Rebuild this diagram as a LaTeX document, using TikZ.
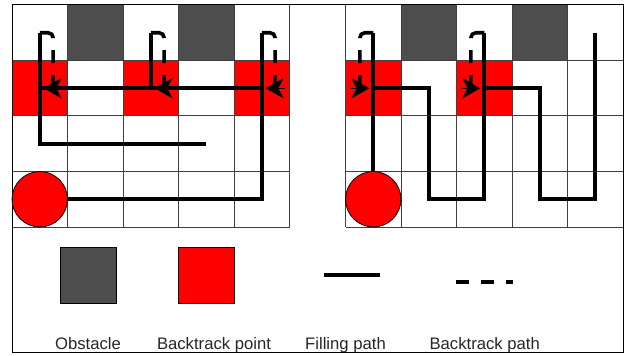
\documentclass[tikz,border=0pt]{standalone}
\usepackage{fontspec}
\setmainfont{Liberation Sans}
\usetikzlibrary{arrows.meta,calc}
\definecolor{obstacle}{HTML}{4D4D4D}
\definecolor{backpt}{HTML}{FF0000}

\begin{document}
\begin{tikzpicture}[x=0.75pt,y=-0.75pt,
  gridline/.style={draw=black!75, line width=0.75pt},
  frame/.style={draw=black, line width=0.75pt},
  startdot/.style={circle, draw=black, line width=0.6pt, fill=backpt,
    minimum size=41.6pt, inner sep=0pt},
  keybox/.style={draw=black, line width=0.75pt, minimum width=42pt,
    minimum height=41.5pt, inner sep=0pt},
  fillpath/.style={draw=black, line width=2.7pt},
  backpath/.style={draw=black, line width=2.7pt, rounded corners=3.75pt,
    dash pattern=on 12.4pt off 9pt on 9.75pt off 9pt on 9.75pt off 30pt},
  backtip/.style={draw=black, line width=1pt,
    -{Stealth[length=13.5pt,width=15.5pt,inset=4pt]}},
  keydash/.style={draw=black, line width=2.9pt, dash pattern=on 9.75pt off 9.15pt},
  legendtext/.style={font=\fontsize{12.5pt}{15pt}\selectfont, text=black!85,
    anchor=base, inner sep=0pt}
]
\useasboundingbox (0,0) rectangle (624,356);

% cell centres of both 5x4 grids
\foreach \g/\ox in {L/12, R/345.5} {
  \foreach \c in {0,...,4} {
    \foreach \r in {0,...,3} {
      \coordinate (\g-\c-\r) at (\ox+55.5*\c+27.75, 5+55.5*\r+27.75);
    }
  }
}

% obstacle cells (top row, columns 1 and 3 of both grids)
\foreach \ox in {12, 345.5} {
  \fill[obstacle] (\ox+55.5,5) rectangle ++(55.5,55.5);
  \fill[obstacle] (\ox+166.5,5) rectangle ++(55.5,55.5);
}
% backtrack cells
\foreach \c in {0,2,4} \fill[backpt] (12+55.5*\c,60.5) rectangle ++(55.5,55.5);
\foreach \c in {0,2} \fill[backpt] (345.5+55.5*\c,60.5) rectangle ++(55.5,55.5);

% grid lines
\foreach \ox in {12, 345.5} {
  \foreach \i in {0,...,5} \draw[gridline] (\ox+55.5*\i,5) -- (\ox+55.5*\i,227);
  \foreach \j in {0,...,4} \draw[gridline] (\ox,5+55.5*\j) -- (\ox+277.5,5+55.5*\j);
}

% start positions
\node[startdot] (Lstart) at (L-0-3) {};
\node[startdot] (Rstart) at (R-0-3) {};

% left grid: filling path
\draw[fillpath] (Lstart) -- (L-4-3) -- (L-4-0);
\draw[fillpath] (L-4-1) -- (L-0-1);
\draw[fillpath] (L-2-0) -- (L-2-1);
\draw[fillpath] (L-0-0) -- (L-0-2) -- (L-3-2);

% left grid: backtrack paths
\foreach \c in {0,2,4} {
  \draw[backpath] (L-\c-0) -- ($(L-\c-0)+(13.4,0)$) -- ($(L-\c-1)+(13.4,0)$);
  \draw[backtip] ($(L-\c-1)+(23,0)$) -- ($(L-\c-1)+(4,0)$);
}

% right grid: filling path
\draw[fillpath] (Rstart) -- (R-0-0);
\draw[fillpath] (R-0-1) -- (R-1-1) -- (R-1-3) -- (R-2-3) -- (R-2-0);
\draw[fillpath] (R-2-1) -- (R-3-1) -- (R-3-3) -- (R-4-3) -- (R-4-0);

% right grid: backtrack paths
\foreach \c in {0,2} {
  \draw[backpath] (R-\c-0) -- ($(R-\c-0)+(-13.4,0)$) -- ($(R-\c-1)+(-13.4,0)$);
  \draw[backtip] ($(R-\c-1)+(-23,0)$) -- ($(R-\c-1)+(-4,0)$);
}

% legend
\node[keybox, fill=obstacle] (keyobst) at (88,275.6) {};
\node[keybox, fill=backpt] (keyback) at (206.5,275.6) {};
\coordinate (kf1) at (324.3,275);
\coordinate (kf2) at (380.3,275);
\draw[fillpath] (kf1) -- (kf2);
\coordinate (kb1) at (456,282.3);
\coordinate (kb2) at (513.3,282.3);
\draw[keydash] (kb1) -- (kb2);

\node[legendtext] (tobst) at (88,349.4) {Obstacle};
\node[legendtext] (tback) at (214,349.4) {Backtrack point};
\node[legendtext] (tfill) at (345.5,349.4) {Filling path};
\node[legendtext] (tbpath) at (484.7,349.4) {Backtrack path};

% outer frame
\draw[frame] (12,5) rectangle (623,352);
\end{tikzpicture}
\end{document}
